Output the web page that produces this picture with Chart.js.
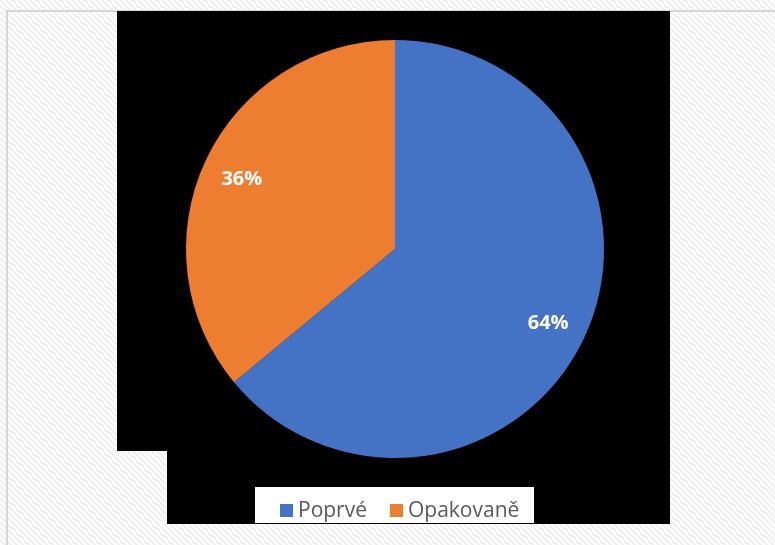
<!DOCTYPE html>
<html>
<head>
<meta charset="utf-8">
<script src="https://cdn.jsdelivr.net/npm/chart.js@4/dist/chart.umd.min.js"></script>
<style>
    html, body { margin: 0; padding: 0; background: #fff; }
    #wrap { position: absolute; left: 0; top: 0; width: 775px; height: 545px; }
</style>
</head>
<body>
<div id="wrap"><canvas id="pieChart" width="775" height="545"></canvas></div>
<script>
const categories = ['Poprvé', 'Opakovaně'];
const shares = [64, 36];
const sliceColors = ['#4472C4', '#ED7D31'];

// hatched sheet, black backdrop with a notch, and the white legend strip
const backdrop = {
    id: 'backdrop',
    beforeDraw(chart) {
        const c = chart.ctx;
        const tile = document.createElement('canvas');
        tile.width = 6; tile.height = 6;
        const t = tile.getContext('2d');
        t.fillStyle = '#ffffff';
        t.fillRect(0, 0, 6, 6);
        t.strokeStyle = '#efefef';
        t.lineWidth = 2;
        t.beginPath();
        t.moveTo(-1, -1); t.lineTo(7, 7);
        t.moveTo(-7, -1); t.lineTo(1, 7);
        t.moveTo(5, -1); t.lineTo(13, 7);
        t.stroke();
        c.save();
        c.fillStyle = c.createPattern(tile, 'repeat');
        c.fillRect(0, 0, chart.width, chart.height);

        c.strokeStyle = '#d6d6d6';
        c.lineWidth = 2;
        c.beginPath();
        c.moveTo(7, chart.height);
        c.lineTo(7, 11);
        c.lineTo(chart.width, 11);
        c.stroke();

        c.fillStyle = '#000000';
        c.beginPath();
        c.moveTo(117, 11);
        c.lineTo(670, 11);
        c.lineTo(670, 524);
        c.lineTo(167, 524);
        c.lineTo(167, 451);
        c.lineTo(117, 451);
        c.closePath();
        c.fill();

        c.fillStyle = '#ffffff';
        c.fillRect(255, 487, 279, 36);
        c.restore();
    }
};

// percent labels inside the slices and the legend row
const labels = {
    id: 'labels',
    afterDatasetsDraw(chart) {
        const c = chart.ctx;
        const ds = chart.data.datasets[0];
        const total = ds.data.reduce((a, b) => a + b, 0);
        c.save();
        c.font = 'bold 20px "Open Sans", sans-serif';
        c.fillStyle = '#ffffff';
        c.textAlign = 'center';
        c.textBaseline = 'middle';
        chart.getDatasetMeta(0).data.forEach((arc, i) => {
            const p = arc.getProps(['x', 'y', 'startAngle', 'endAngle', 'outerRadius'], true);
            const mid = (p.startAngle + p.endAngle) / 2;
            const r = p.outerRadius * 0.81;
            const pct = Math.round(ds.data[i] / total * 100) + '%';
            c.fillText(pct, p.x + Math.cos(mid) * r, p.y + Math.sin(mid) * r + 2);
        });

        c.font = '21px "Open Sans", sans-serif';
        c.textAlign = 'left';
        c.textBaseline = 'middle';
        let x = 280;
        const y = 511;
        chart.data.labels.forEach((name, i) => {
            c.fillStyle = ds.backgroundColor[i];
            c.fillRect(x, y - 7, 13, 13);
            c.fillStyle = '#595959';
            c.fillText(name, x + 18, y);
            x += 18 + c.measureText(name).width + 23;
        });
        c.restore();
    }
};

const ctx = document.getElementById('pieChart').getContext('2d');
new Chart(ctx, {
    type: 'pie',
    data: {
        labels: categories,
        datasets: [{
            data: shares,
            backgroundColor: sliceColors,
            borderWidth: 0
        }]
    },
    options: {
        responsive: false,
        animation: false,
        layout: { padding: { left: 186, right: 171, top: 40, bottom: 87 } },
        plugins: {
            legend: { display: false },
            tooltip: { enabled: false }
        }
    },
    plugins: [backdrop, labels]
});
</script>
</body>
</html>
